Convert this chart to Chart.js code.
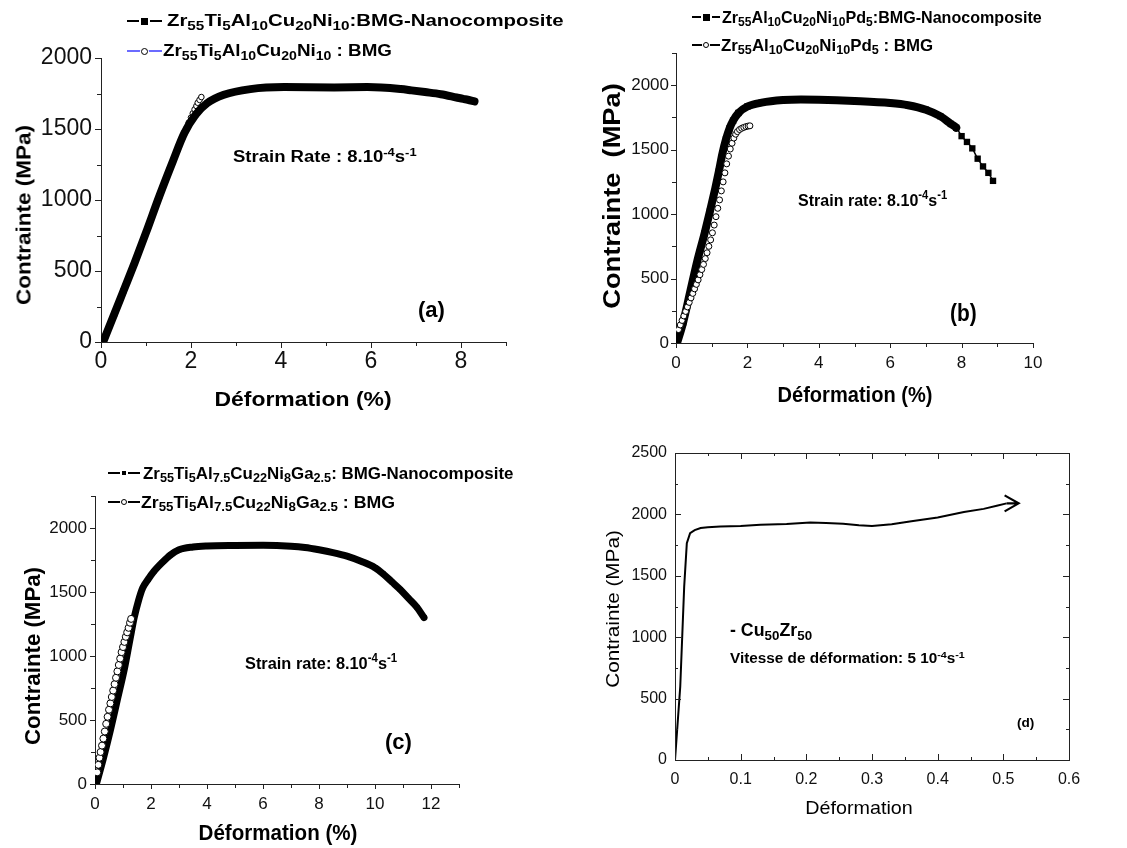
<!DOCTYPE html>
<html>
<head>
<meta charset="utf-8">
<script src="https://cdn.jsdelivr.net/npm/chart.js@4.4.1/dist/chart.umd.min.js"></script>
<style>
body { margin: 0; background: #fff; }
#page { position: relative; width: 1127px; height: 848px; overflow: hidden; font-family: 'Liberation Sans', Arial, sans-serif; color: #000; }
canvas { position: absolute; }
.t { position: absolute; white-space: nowrap; font-weight: bold; line-height: 1; }
.t sub { font-size: 75%; vertical-align: -0.3em; line-height: 0; }
.t sup { font-size: 70%; vertical-align: 0.55em; line-height: 0; }
</style>
</head>
<body>
<div id="page"></div>
<script>
// ---- data ----
// (a) Zr55Ti5Al10Cu20Ni10
const aNanoStrain = [0.06, 0.3, 0.5, 0.75, 1.0, 1.3, 1.6, 1.85, 2.1, 2.36, 2.73, 3.32, 4.07, 5.18, 5.92, 6.66, 6.9, 7.2, 7.55, 7.9, 8.05, 8.15, 8.3];
const aNanoStress = [10, 200, 360, 560, 770, 1030, 1275, 1470, 1600, 1682, 1741, 1781, 1795, 1793, 1795, 1781, 1772, 1760, 1745, 1722, 1712, 1706, 1694];
const aBmgStrain = [0.03, 0.1, 0.2, 0.3, 0.4, 0.5, 0.6, 0.7, 0.8, 0.9, 1.0, 1.1, 1.2, 1.3, 1.4, 1.5, 1.6, 1.7, 1.8, 1.9, 1.95, 2.0, 2.04, 2.08, 2.12, 2.15, 2.19, 2.23];
const aBmgStress = [0, 45, 120, 200, 280, 360, 440, 520, 600, 685, 770, 855, 940, 1030, 1110, 1195, 1275, 1350, 1430, 1505, 1545, 1580, 1610, 1638, 1662, 1685, 1705, 1725];

// (b) Zr55Al10Cu20Ni10Pd5
const bNanoStrain = [0.03, 0.2, 0.4, 0.6, 0.8, 0.95, 1.1, 1.2, 1.3, 1.4, 1.5, 1.6, 1.75, 2.0, 2.4, 3.0, 3.5, 4.0, 5.0, 6.0, 6.5, 7.0, 7.4, 7.7, 7.85, 8.0, 8.15, 8.3, 8.45, 8.6, 8.75, 8.88];
const bNanoStress = [0, 160, 400, 640, 850, 1020, 1200, 1330, 1470, 1580, 1665, 1725, 1785, 1835, 1865, 1885, 1890, 1888, 1878, 1862, 1845, 1810, 1760, 1700, 1670, 1605, 1560, 1510, 1430, 1370, 1320, 1258];
const bBmgStrain = [0.07, 0.12, 0.17, 0.22, 0.27, 0.32, 0.37, 0.42, 0.47, 0.52, 0.57, 0.62, 0.67, 0.72, 0.77, 0.82, 0.87, 0.92, 0.97, 1.02, 1.07, 1.12, 1.17, 1.22, 1.27, 1.32, 1.37, 1.42, 1.47, 1.52, 1.57, 1.62, 1.67, 1.72, 1.78, 1.84, 1.9, 1.96, 2.02, 2.07];
const bBmgStress = [104, 140, 175, 210, 245, 280, 315, 350, 385, 420, 455, 490, 530, 570, 610, 655, 700, 750, 800, 855, 915, 980, 1045, 1110, 1180, 1250, 1320, 1390, 1450, 1505, 1550, 1590, 1620, 1640, 1656, 1666, 1673, 1679, 1683, 1685];

// (c) Zr55Ti5Al7.5Cu22Ni8Ga2.5
const cNanoStrain = [0.05, 0.3, 0.55, 0.8, 1.05, 1.25, 1.4, 1.55, 1.7, 1.9, 2.1, 2.4, 2.7, 3.0, 3.5, 4.0, 5.0, 6.0, 7.0, 7.5, 8.0, 8.5, 9.0, 9.5, 10.0, 10.3, 10.6, 10.9, 11.2, 11.5, 11.75];
const cNanoStress = [0, 200, 420, 660, 900, 1130, 1300, 1430, 1530, 1600, 1660, 1730, 1790, 1830, 1852, 1860, 1864, 1865, 1858, 1848, 1830, 1808, 1780, 1740, 1690, 1640, 1580, 1520, 1450, 1380, 1300];
const cBmgStrain = [0.08, 0.12, 0.16, 0.2, 0.25, 0.3, 0.35, 0.4, 0.45, 0.5, 0.55, 0.6, 0.65, 0.7, 0.75, 0.8, 0.85, 0.9, 0.95, 1.0, 1.05, 1.1, 1.15, 1.2, 1.25, 1.29];
const cBmgStress = [91, 150, 205, 250, 300, 355, 410, 470, 525, 580, 630, 680, 730, 780, 830, 880, 930, 980, 1030, 1070, 1110, 1150, 1185, 1220, 1260, 1290];

// (d) Cu50Zr50
const dStrain = [0, 0.008, 0.014, 0.018, 0.023, 0.03, 0.039, 0.05, 0.069, 0.1, 0.13, 0.17, 0.206, 0.23, 0.256, 0.28, 0.3, 0.33, 0.36, 0.4, 0.44, 0.47, 0.49, 0.505];
const dStress = [0, 598, 1413, 1766, 1848, 1872, 1889, 1895, 1902, 1905, 1916, 1922, 1935, 1930, 1924, 1912, 1905, 1920, 1945, 1975, 2020, 2045, 2070, 2090];

const FONT = "'Liberation Sans', Arial, sans-serif";
const page = document.getElementById('page');

function pts(xs, ys) {
    return xs.map((x, i) => ({ x: x, y: ys[i] }));
}
function isMajor(v, step) {
    return Math.abs(v / step - Math.round(v / step)) < 1e-6;
}

// tick marks (major + minor), drawn from the scales
const tickMarks = {
    id: 'tickMarks',
    afterDraw(chart, args, o) {
        const ctx = chart.ctx, area = chart.chartArea;
        ctx.save();
        ctx.strokeStyle = '#222';
        ctx.lineWidth = 1;
        ['x', 'y'].forEach(id => {
            const s = chart.scales[id], t = o[id];
            const n = Math.round((s.max - s.min) / t.minor);
            for (let i = 0; i <= n; i++) {
                const v = s.min + i * t.minor;
                const len = (isMajor(v, t.major) ? o.len : o.minorLen) * (o.inside ? -1 : 1);
                const p = Math.round(s.getPixelForValue(v)) + 0.5;
                ctx.beginPath();
                if (id === 'x') {
                    ctx.moveTo(p, area.bottom); ctx.lineTo(p, area.bottom + len);
                    if (o.box) { ctx.moveTo(p, area.top); ctx.lineTo(p, area.top - len); }
                } else {
                    ctx.moveTo(area.left, p); ctx.lineTo(area.left - len, p);
                    if (o.box) { ctx.moveTo(area.right, p); ctx.lineTo(area.right + len, p); }
                }
                ctx.stroke();
            }
        });
        if (o.box) ctx.strokeRect(area.left + 0.5, area.top + 0.5, area.right - area.left, area.bottom - area.top);
        ctx.restore();
    }
};

// open arrow head at the end of the curve (panel d)
const arrowEnd = {
    id: 'arrowEnd',
    afterDatasetsDraw(chart, args, o) {
        if (!o.show) return;
        const data = chart.getDatasetMeta(0).data;
        const p = data[data.length - 1];
        const ctx = chart.ctx;
        ctx.save();
        ctx.strokeStyle = '#000';
        ctx.lineWidth = 2.2;
        ctx.beginPath();
        ctx.moveTo(p.x, p.y); ctx.lineTo(p.x + 10, p.y);
        ctx.moveTo(p.x - 2, p.y - 8); ctx.lineTo(p.x + 12, p.y); ctx.lineTo(p.x - 2, p.y + 8);
        ctx.stroke();
        ctx.restore();
    }
};

function axis(a, fit) {
    return {
        type: 'linear', min: a.min, max: a.max, afterFit: fit,
        grid: { display: false, drawTicks: false },
        border: { display: true, color: '#222', width: 1 },
        ticks: {
            stepSize: a.minor, autoSkip: false, maxRotation: 0,
            padding: a.pad, color: '#111', font: { family: FONT, size: a.size },
            callback: v => isMajor(v, a.major) ? String(Math.round(v * 100) / 100) : ''
        }
    };
}

function makeChart(box, area, xs, ys, datasets, marks, arrow) {
    const cv = document.createElement('canvas');
    cv.width = box.w; cv.height = box.h;
    cv.style.left = box.x + 'px'; cv.style.top = box.y + 'px';
    page.appendChild(cv);
    return new Chart(cv, {
        type: 'scatter',
        data: { datasets: datasets },
        options: {
            responsive: false, animation: false, events: [],
            layout: { padding: { left: 0, top: area.t - box.y, right: box.x + box.w - area.r, bottom: 0 } },
            plugins: { legend: { display: false }, tooltip: { enabled: false },
                       tickMarks: marks, arrowEnd: { show: !!arrow } },
            scales: {
                x: axis(xs, s => { s.height = box.y + box.h - area.b; }),
                y: axis(ys, s => { s.width = area.l - box.x; })
            }
        },
        plugins: [tickMarks, arrowEnd]
    });
}

// thick band of squares; thinner joining line past "thinFrom" where the squares separate
function nanoSet(xs, ys, width, r, thinFrom) {
    return {
        data: pts(xs, ys), showLine: true, cubicInterpolationMode: 'monotone',
        borderColor: '#000', borderWidth: width, borderJoinStyle: 'round', borderCapStyle: 'round',
        segment: { borderWidth: c => (thinFrom && c.p0.parsed.x >= thinFrom) ? 1.5 : width },
        pointStyle: 'rect', pointRadius: r, pointBackgroundColor: '#000', pointBorderColor: '#000', pointBorderWidth: 0
    };
}
function bmgSet(xs, ys, r) {
    return {
        data: pts(xs, ys), showLine: false,
        pointStyle: 'circle', pointRadius: r, pointBackgroundColor: '#fff', pointBorderColor: '#000', pointBorderWidth: 1
    };
}

// (a) nano on top of bmg
makeChart({ x: 0, y: 0, w: 560, h: 420 }, { l: 101, t: 58, r: 506, b: 342 },
    { min: 0, max: 9, major: 2, minor: 1, pad: 6, size: 23 }, { min: 0, max: 2000, major: 500, minor: 250, pad: 9, size: 23 },
    [nanoSet(aNanoStrain, aNanoStress, 8, 4), bmgSet(aBmgStrain, aBmgStress, 2.8)],
    { x: { major: 2, minor: 1 }, y: { major: 500, minor: 250 }, len: 6, minorLen: 4 });

// (b)
makeChart({ x: 560, y: 0, w: 567, h: 420 }, { l: 676, t: 53, r: 1033, b: 343 },
    { min: 0, max: 10, major: 2, minor: 1, pad: 10, size: 17 }, { min: 0, max: 2250, major: 500, minor: 250, pad: 7, size: 17 },
    [bmgSet(bBmgStrain, bBmgStress, 3), nanoSet(bNanoStrain, bNanoStress, 8, 4.5, 7.85)],
    { x: { major: 2, minor: 1 }, y: { major: 500, minor: 250 }, len: 5, minorLen: 4 });

// (c)
makeChart({ x: 0, y: 420, w: 560, h: 428 }, { l: 95, t: 496, r: 459, b: 784 },
    { min: 0, max: 13, major: 2, minor: 1, pad: 10, size: 17 }, { min: 0, max: 2250, major: 500, minor: 250, pad: 8, size: 17 },
    [bmgSet(cBmgStrain, cBmgStress, 3.5), nanoSet(cNanoStrain, cNanoStress, 7, 3.5)],
    { x: { major: 2, minor: 1 }, y: { major: 500, minor: 250 }, len: 5, minorLen: 4 });

// (d)
makeChart({ x: 560, y: 420, w: 567, h: 428 }, { l: 675, t: 453, r: 1069, b: 760 },
    { min: 0, max: 0.6, major: 0.1, minor: 0.05, pad: 10, size: 16 }, { min: 0, max: 2500, major: 500, minor: 250, pad: 8, size: 16 },
    [{ data: pts(dStrain, dStress), showLine: true, borderColor: '#000', borderWidth: 2, pointRadius: 0, tension: 0 }],
    { x: { major: 0.1, minor: 0.05 }, y: { major: 500, minor: 250 }, len: 6, minorLen: 3, inside: true, box: true },
    true);

// ---- texts ----
function addText(html, x, y, size, o = {}) {
    const d = document.createElement('div');
    d.className = 't';
    d.innerHTML = html;
    d.style.left = x + 'px';
    d.style.top = y + 'px';
    d.style.fontSize = size + 'px';
    if (o.normal) d.style.fontWeight = 'normal';
    page.appendChild(d);
    const k = o.w ? o.w / d.offsetWidth : 1;
    if (o.rotate) {
        d.style.transform = `translate(-50%,-50%) rotate(-90deg) scaleX(${k})`;
    } else if (o.center) {
        d.style.transform = `translate(-50%,-50%) scaleX(${k})`;
    } else {
        d.style.transformOrigin = '0 50%';
        d.style.transform = `translateY(-50%) scaleX(${k})`;
    }
}

function sample(x1, x2, y, circle, lineColor, size) {
    const l = document.createElement('div');
    l.style.cssText = `position:absolute;left:${x1}px;top:${y - 0.75}px;width:${x2 - x1}px;height:1.5px;background:${lineColor};`;
    page.appendChild(l);
    const m = document.createElement('div');
    m.style.cssText = `position:absolute;left:${(x1 + x2) / 2 - size / 2}px;top:${y - size / 2}px;width:${size}px;height:${size}px;box-sizing:border-box;` +
        (circle ? 'border:1px solid #000;border-radius:50%;background:#fff;box-shadow:0 0 0 1px #fff;' : 'background:#000;box-shadow:0 0 0 2px #fff;');
    page.appendChild(m);
}

// (a)
sample(127, 162, 21, false, '#000', 7);
addText('Zr<sub>55</sub>Ti<sub>5</sub>Al<sub>10</sub>Cu<sub>20</sub>Ni<sub>10</sub>:BMG-Nanocomposite', 167, 21, 16, { w: 396 });
sample(127, 162, 51, true, '#6b6bff', 7);
addText('Zr<sub>55</sub>Ti<sub>5</sub>Al<sub>10</sub>Cu<sub>20</sub>Ni<sub>10</sub> : BMG', 163, 51, 16, { w: 229 });
addText('Strain Rate : 8.10<sup>-4</sup>s<sup>-1</sup>', 233, 157, 16, { w: 184 });
addText('(a)', 418, 310, 22, { w: 27 });
addText('Contrainte (MPa)', 23, 215, 21, { rotate: true, w: 180 });
addText('Déformation (%)', 303, 398, 21, { center: true, w: 177 });

// (b)
sample(692, 720, 17, false, '#000', 7);
addText('Zr<sub>55</sub>Al<sub>10</sub>Cu<sub>20</sub>Ni<sub>10</sub>Pd<sub>5</sub>:BMG-Nanocomposite', 722, 17, 17, { w: 320 });
sample(692, 720, 45, true, '#000', 6);
addText('Zr<sub>55</sub>Al<sub>10</sub>Cu<sub>20</sub>Ni<sub>10</sub>Pd<sub>5</sub> : BMG', 721, 45, 17, { w: 212 });
addText('Strain rate: 8.10<sup>-4</sup>s<sup>-1</sup>', 798, 200, 17, { w: 149 });
addText('(b)', 950, 313, 24, { w: 27 });
addText('Contrainte&nbsp; (MPa)', 612, 196, 23, { rotate: true, w: 225 });
addText('Déformation (%)', 855, 395, 22, { center: true, w: 155 });

// (c)
sample(108, 140, 473, false, '#000', 4);
addText('Zr<sub>55</sub>Ti<sub>5</sub>Al<sub>7.5</sub>Cu<sub>22</sub>Ni<sub>8</sub>Ga<sub>2.5</sub>: BMG-Nanocomposite', 143, 473, 17, { w: 370 });
sample(108, 140, 502, true, '#000', 6);
addText('Zr<sub>55</sub>Ti<sub>5</sub>Al<sub>7.5</sub>Cu<sub>22</sub>Ni<sub>8</sub>Ga<sub>2.5</sub> : BMG', 141, 502, 17, { w: 254 });
addText('Strain rate: 8.10<sup>-4</sup>s<sup>-1</sup>', 245, 663, 17, { w: 152 });
addText('(c)', 385, 742, 22, { w: 27 });
addText('Contrainte (MPa)', 33, 656, 22, { rotate: true, w: 178 });
addText('Déformation (%)', 278, 833, 22, { center: true, w: 159 });

// (d)
addText('Contrainte (MPa)', 612, 609, 19, { rotate: true, normal: true, w: 158 });
addText('Déformation', 859, 807, 19, { center: true, normal: true, w: 108 });
addText('- Cu<sub>50</sub>Zr<sub>50</sub>', 730, 630, 18, { w: 82 });
addText('Vitesse de déformation: 5 10<sup>-4</sup>s<sup>-1</sup>', 730, 658, 14, { w: 235 });
addText('(d)', 1017, 723, 12, { w: 17 });
</script>
</body>
</html>
